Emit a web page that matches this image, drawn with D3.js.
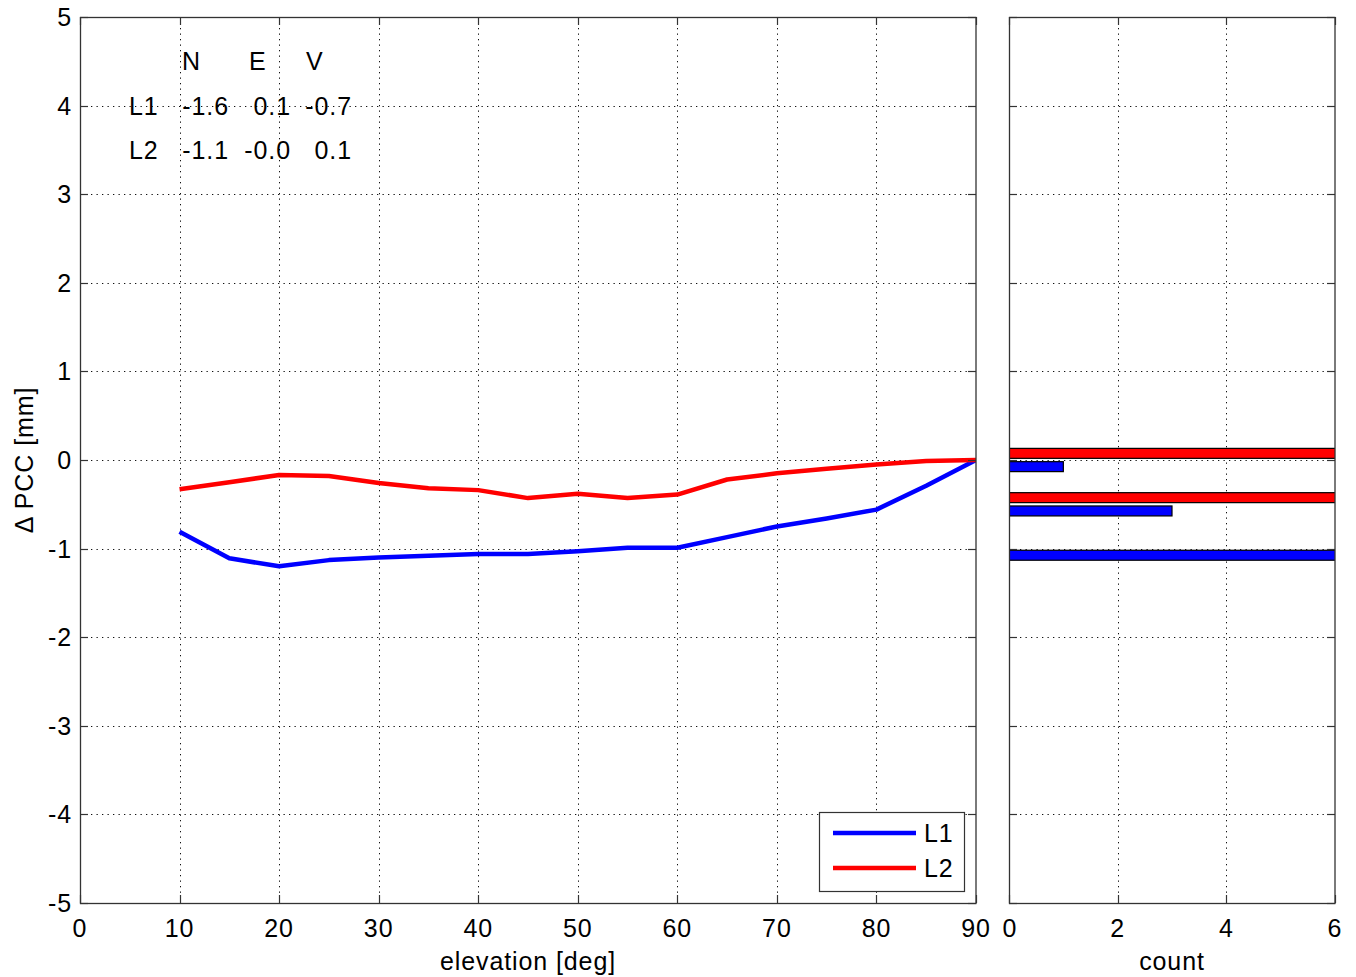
<!DOCTYPE html>
<html>
<head>
<meta charset="utf-8">
<script src="https://cdn.jsdelivr.net/npm/d3@7"></script>
<style>
  html, body { margin: 0; padding: 0; background: #fff; }
  svg { display: block; font-family: "Liberation Sans", Arial, sans-serif; }
</style>
</head>
<body>
<svg id="chart" width="1356" height="977"></svg>
<script>
// ---- data ----
const elevation = [10, 15, 20, 25, 30, 35, 40, 45, 50, 55, 60, 65, 70, 75, 80, 85, 90];
const seriesL1 = [-0.81, -1.11, -1.20, -1.13, -1.10, -1.08, -1.06, -1.06, -1.03, -0.99, -0.99, -0.87, -0.75, -0.66, -0.56, -0.29, 0.0];
const seriesL2 = [-0.33, -0.25, -0.17, -0.18, -0.26, -0.32, -0.34, -0.43, -0.38, -0.43, -0.39, -0.22, -0.15, -0.10, -0.05, -0.01, 0.0];
const seriesNames = ["L1", "L2"];
const seriesColors = ["#0000ff", "#ff0000"];

const histCenters = [0, -0.5, -1.0];
const histL1 = [1, 3, 13];
const histL2 = [8, 9, 0];

const xTicks = [0, 10, 20, 30, 40, 50, 60, 70, 80, 90];
const yTicks = [-5, -4, -3, -2, -1, 0, 1, 2, 3, 4, 5];
const countTicks = [0, 2, 4, 6];

const tableHeader = ["N", "E", "V"];
const tableRows = ["L1", "L2"];
const tableValues = [["-1.6", "0.1", "-0.7"], ["-1.1", "-0.0", "0.1"]];

// ---- layout ----
const svg = d3.select("#chart");
const main = { left: 80, right: 976, top: 17, bottom: 903 };
const hist = { left: 1009, right: 1335, top: 17, bottom: 903 };
const FS = 25;
const LS = "0.9px";
const TICK = 8;

const x = d3.scaleLinear().domain([0, 90]).range([main.left, main.right]);
const y = d3.scaleLinear().domain([-5, 5]).range([main.bottom, main.top]);
const xc = d3.scaleLinear().domain([0, 6]).range([hist.left, hist.right]);

const defs = svg.append("defs");
defs.append("clipPath").attr("id", "clipMain").append("rect")
  .attr("x", main.left).attr("y", main.top).attr("width", main.right - main.left).attr("height", main.bottom - main.top);
defs.append("clipPath").attr("id", "clipHist").append("rect")
  .attr("x", hist.left).attr("y", hist.top).attr("width", hist.right - hist.left).attr("height", hist.bottom - hist.top);

const gridStyle = g => g.attr("stroke", "#111").attr("stroke-width", 1).attr("stroke-dasharray", "1.3,4.2").attr("fill", "none");

// ---- main panel grid ----
const gMainGrid = svg.append("g").call(gridStyle);
xTicks.filter(t => t > 0 && t < 90).forEach(t => {
  gMainGrid.append("line").attr("x1", Math.round(x(t)) + 0.5).attr("x2", Math.round(x(t)) + 0.5).attr("y1", main.top).attr("y2", main.bottom);
});
yTicks.filter(t => t > -5 && t < 5).forEach(t => {
  gMainGrid.append("line").attr("x1", main.left).attr("x2", main.right).attr("y1", Math.round(y(t)) + 0.5).attr("y2", Math.round(y(t)) + 0.5);
});

// ---- hist panel grid ----
const gHistGrid = svg.append("g").call(gridStyle);
countTicks.filter(t => t > 0 && t < 6).forEach(t => {
  gHistGrid.append("line").attr("x1", Math.round(xc(t)) + 0.5).attr("x2", Math.round(xc(t)) + 0.5).attr("y1", hist.top).attr("y2", hist.bottom);
});
yTicks.filter(t => t > -5 && t < 5).forEach(t => {
  gHistGrid.append("line").attr("x1", hist.left).attr("x2", hist.right).attr("y1", Math.round(y(t)) + 0.5).attr("y2", Math.round(y(t)) + 0.5);
});

// ---- lines ----
const line = d3.line().x((d, i) => x(elevation[i])).y(d => y(d));
const gLines = svg.append("g").attr("clip-path", "url(#clipMain)");
[seriesL1, seriesL2].forEach((s, i) => {
  gLines.append("path").datum(s).attr("d", line)
    .attr("fill", "none").attr("stroke", seriesColors[i]).attr("stroke-width", 4.5)
    .attr("stroke-linejoin", "round").attr("stroke-linecap", "butt");
});

// ---- histogram bars ----
const halfGroup = 0.15;
const inner = d3.scaleBand().domain(["L2", "L1"])
  .range([0, y(-halfGroup) - y(halfGroup)]).paddingInner(0.25).paddingOuter(0.125);
const gBars = svg.append("g").attr("clip-path", "url(#clipHist)");
histCenters.forEach((c, k) => {
  [["L2", histL2[k], seriesColors[1]], ["L1", histL1[k], seriesColors[0]]].forEach(([name, v, col]) => {
    if (v <= 0) return;
    gBars.append("rect")
      .attr("x", xc(0))
      .attr("y", y(c + halfGroup) + inner(name))
      .attr("width", xc(v) - xc(0))
      .attr("height", inner.bandwidth())
      .attr("fill", col).attr("stroke", "#000").attr("stroke-width", 1.2);
  });
});

// ---- axes (box + inward ticks) ----
function box(p) {
  svg.append("rect").attr("x", p.left + 0.5).attr("y", p.top + 0.5)
    .attr("width", p.right - p.left - 1 + 0.5).attr("height", p.bottom - p.top)
    .attr("fill", "none").attr("stroke", "#333").attr("stroke-width", 1.3);
}
box(main); box(hist);

const gTicks = svg.append("g").attr("stroke", "#333").attr("stroke-width", 1.2);
xTicks.forEach(t => {
  const px = Math.round(x(t)) + 0.5;
  gTicks.append("line").attr("x1", px).attr("x2", px).attr("y1", main.bottom).attr("y2", main.bottom - TICK);
  gTicks.append("line").attr("x1", px).attr("x2", px).attr("y1", main.top).attr("y2", main.top + TICK);
});
countTicks.forEach(t => {
  const px = Math.round(xc(t)) + 0.5;
  gTicks.append("line").attr("x1", px).attr("x2", px).attr("y1", hist.bottom).attr("y2", hist.bottom - TICK);
  gTicks.append("line").attr("x1", px).attr("x2", px).attr("y1", hist.top).attr("y2", hist.top + TICK);
});
yTicks.forEach(t => {
  const py = Math.round(y(t)) + 0.5;
  gTicks.append("line").attr("x1", main.left).attr("x2", main.left + TICK).attr("y1", py).attr("y2", py);
  gTicks.append("line").attr("x1", main.right).attr("x2", main.right - TICK).attr("y1", py).attr("y2", py);
  gTicks.append("line").attr("x1", hist.left).attr("x2", hist.left + TICK).attr("y1", py).attr("y2", py);
  gTicks.append("line").attr("x1", hist.right).attr("x2", hist.right - TICK).attr("y1", py).attr("y2", py);
});

// ---- tick labels ----
const gText = svg.append("g").attr("font-size", FS).attr("letter-spacing", LS).attr("fill", "#000");
xTicks.forEach(t => {
  gText.append("text").attr("x", x(t)).attr("y", 937).attr("text-anchor", "middle").text(t);
});
countTicks.forEach(t => {
  gText.append("text").attr("x", xc(t) + (t === 0 ? 1 : 0)).attr("y", 937).attr("text-anchor", "middle").text(t);
});
yTicks.forEach(t => {
  gText.append("text").attr("x", 72).attr("y", y(t) + 9).attr("text-anchor", "end").text(t);
});

// ---- axis labels ----
gText.append("text").attr("x", (main.left + main.right) / 2).attr("y", 970).attr("text-anchor", "middle").text("elevation [deg]");
gText.append("text").attr("x", (hist.left + hist.right) / 2).attr("y", 970).attr("text-anchor", "middle").text("count");
gText.append("text").attr("transform", `translate(33,${y(0)}) rotate(-90)`).attr("text-anchor", "middle").text("\u0394 PCC [mm]");

// ---- table text ----
const colRight = [229, 291, 352];
const colHeadLeft = [182, 249, 306];
const rowY = [4.5, 4.0, 3.5];
tableHeader.forEach((h, j) => {
  gText.append("text").attr("x", colHeadLeft[j]).attr("y", y(rowY[0]) + 9).text(h);
});
tableRows.forEach((r, i) => {
  gText.append("text").attr("x", 129).attr("y", y(rowY[i + 1]) + 9).text(r);
  tableValues[i].forEach((v, j) => {
    gText.append("text").attr("x", colRight[j]).attr("y", y(rowY[i + 1]) + 9).attr("text-anchor", "end").text(v);
  });
});

// ---- legend ----
const lg = svg.append("g");
lg.append("rect").attr("x", 819.5).attr("y", 812.5).attr("width", 145).attr("height", 79)
  .attr("fill", "#fff").attr("stroke", "#333").attr("stroke-width", 1.2);
seriesNames.forEach((n, i) => {
  const ly = 833 + i * 35;
  lg.append("line").attr("x1", 833).attr("x2", 916).attr("y1", ly).attr("y2", ly)
    .attr("stroke", seriesColors[i]).attr("stroke-width", 4.5);
  lg.append("text").attr("x", 924).attr("y", ly + 9).attr("font-size", FS).attr("letter-spacing", LS).text(n);
});
</script>
</body>
</html>
